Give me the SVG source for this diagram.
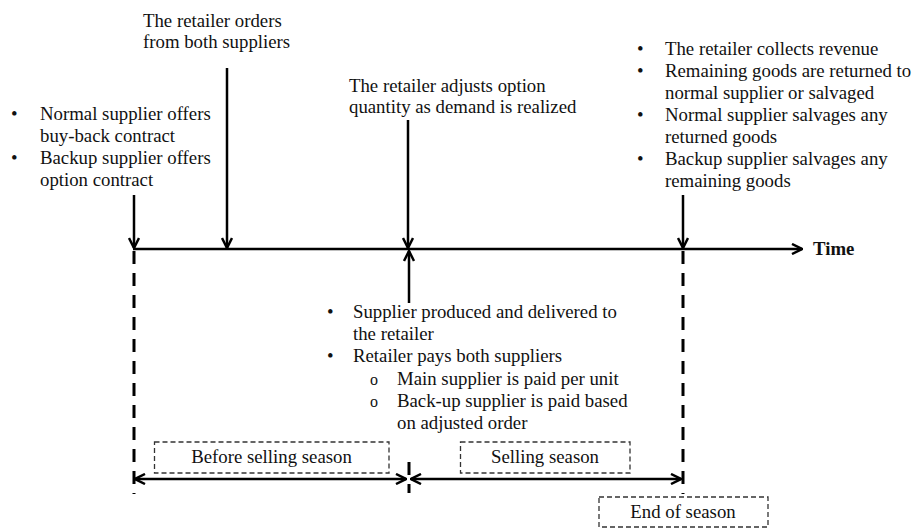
<svg xmlns="http://www.w3.org/2000/svg" width="917" height="529" viewBox="0 0 917 529">
<style>
text{font-family:"Liberation Serif","Times New Roman",serif;font-size:18.8px;fill:#111;}
.b{font-weight:bold;}
.ln{stroke:#000;stroke-width:2.5;fill:none;}
.dash{stroke:#000;stroke-width:3;fill:none;stroke-dasharray:13 9;}
.box{stroke:#333;stroke-width:1.3;fill:#fff;stroke-dasharray:5 3;}
.mid{text-anchor:middle;}
.sub{font-size:16px;}
</style>
<defs>
<marker id="arr" viewBox="0 0 12 12" refX="11" refY="6" markerWidth="12" markerHeight="12" markerUnits="userSpaceOnUse" orient="auto-start-reverse">
<path d="M1,1 L11,6 L1,11" fill="none" stroke="#000" stroke-width="2.5"/>
</marker>
</defs>
<rect width="917" height="529" fill="#fff"/>
<g id="connectors">
<line class="ln" x1="133" y1="249" x2="802" y2="249" marker-end="url(#arr)"/>
<line class="ln" x1="134" y1="195" x2="134" y2="248" marker-end="url(#arr)"/>
<line class="ln" x1="227" y1="68" x2="227" y2="248" marker-end="url(#arr)"/>
<line class="ln" x1="408" y1="120" x2="408" y2="248" marker-end="url(#arr)"/>
<line class="ln" x1="409" y1="303" x2="409" y2="251" marker-end="url(#arr)"/>
<line class="ln" x1="683" y1="195" x2="683" y2="248" marker-end="url(#arr)"/>
<line class="dash" x1="134" y1="251" x2="134" y2="494"/>
<line class="dash" x1="683" y1="251" x2="683" y2="494"/>
<line class="dash" x1="409" y1="462" x2="409" y2="493" stroke-dasharray="11 9"/>
<line class="ln" x1="135" y1="479" x2="406" y2="479" marker-start="url(#arr)" marker-end="url(#arr)"/>
<line class="ln" x1="411" y1="479" x2="681" y2="479" marker-start="url(#arr)" marker-end="url(#arr)"/>
</g>
<g id="time"><text class="b" x="813" y="255">Time</text></g>
<g id="orders">
<text x="143" y="27">The retailer orders</text>
<text x="143" y="48">from both suppliers</text>
</g>
<g id="contracts">
<text x="11" y="120">•</text><text x="40" y="120">Normal supplier offers</text>
<text x="40" y="142">buy-back contract</text>
<text x="11" y="164">•</text><text x="40" y="164">Backup supplier offers</text>
<text x="40" y="186">option contract</text>
</g>
<g id="adjust">
<text x="349" y="92">The retailer adjusts option</text>
<text x="349" y="113">quantity as demand is realized</text>
</g>
<g id="end-events">
<text x="637" y="55">•</text><text x="665" y="55">The retailer collects revenue</text>
<text x="637" y="77">•</text><text x="665" y="77">Remaining goods are returned to</text>
<text x="665" y="99">normal supplier or salvaged</text>
<text x="637" y="121">•</text><text x="665" y="121">Normal supplier salvages any</text>
<text x="665" y="143">returned goods</text>
<text x="637" y="165">•</text><text x="665" y="165">Backup supplier salvages any</text>
<text x="665" y="187">remaining goods</text>
</g>
<g id="delivery">
<text x="327" y="318">•</text><text x="353" y="318">Supplier produced and delivered to</text>
<text x="353" y="340">the retailer</text>
<text x="327" y="362">•</text><text x="353" y="362">Retailer pays both suppliers</text>
<text class="sub" x="370" y="385">o</text><text x="397" y="385">Main supplier is paid per unit</text>
<text class="sub" x="370" y="407">o</text><text x="397" y="407">Back-up supplier is paid based</text>
<text x="397" y="429">on adjusted order</text>
</g>
<g id="before-season">
<rect class="box" x="154.5" y="442" width="234.5" height="31"/>
<text class="mid" x="271.5" y="463">Before selling season</text>
</g>
<g id="selling-season">
<rect class="box" x="460.5" y="442" width="169.5" height="31"/>
<text class="mid" x="545" y="463">Selling season</text>
</g>
<g id="end-season">
<rect class="box" x="599" y="497" width="169" height="30"/>
<text class="mid" x="683" y="518">End of season</text>
</g>
</svg>
